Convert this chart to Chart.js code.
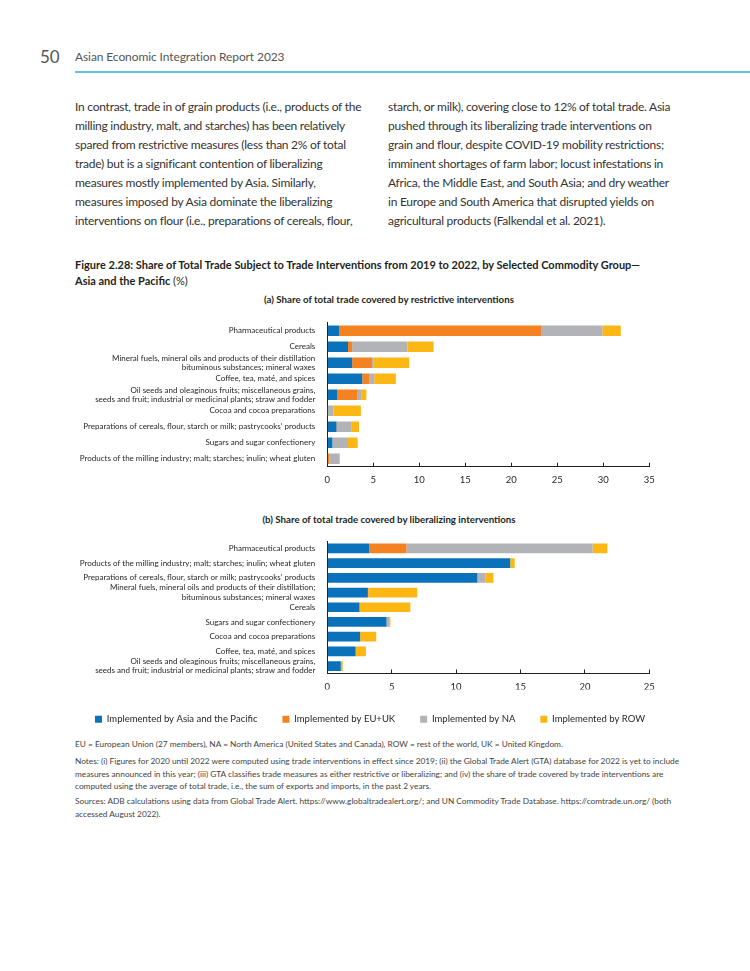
<!DOCTYPE html>
<html>
<head>
<meta charset="utf-8">
<script src="https://cdn.jsdelivr.net/npm/chart.js@4"></script>
<style>
  body { margin: 0; background: #fff; font-family: Lato, sans-serif; color: #333; }
  .page { position: relative; width: 750px; height: 971px; overflow: hidden; }
  .abs { position: absolute; white-space: nowrap; }
  .pnum { left: 40px; top: 46px; font-size: 17px; color: #555; }
  .runhead { left: 75px; top: 49px; font-size: 12px; letter-spacing: -0.1px; color: #555; }
  .rule { left: 75px; top: 71px; width: 675px; height: 2px; background: #5fc3e4; }
  .col { top: 97px; font-size: 12px; letter-spacing: -0.25px; line-height: 19px; color: #333; }
  .figtitle { left: 75px; top: 257px; font-size: 11px; line-height: 16px; font-weight: bold; color: #231f20; }
  .figtitle span { font-weight: normal; }
  .sub { left: 60px; width: 658px; text-align: center; font-size: 9.7px; font-weight: bold; color: #231f20; }
  .notes { left: 75px; font-size: 8.3px; line-height: 12.5px; color: #444; }
  .box { position: absolute; left: 60px; width: 640px; }
</style>
</head>
<body>
<div class="page">
  <div class="abs pnum">50</div>
  <div class="abs runhead">Asian Economic Integration Report 2023</div>
  <div class="abs rule"></div>

  <div class="abs col" style="left:75px">
    In contrast, trade in of grain products (i.e., products of the<br>
    milling industry, malt, and starches) has been relatively<br>
    spared from restrictive measures (less than 2% of total<br>
    trade) but is a significant contention of liberalizing<br>
    measures mostly implemented by Asia. Similarly,<br>
    measures imposed by Asia dominate the liberalizing<br>
    interventions on flour (i.e., preparations of cereals, flour,
  </div>
  <div class="abs col" style="left:388px">
    starch, or milk), covering close to 12% of total trade. Asia<br>
    pushed through its liberalizing trade interventions on<br>
    grain and flour, despite COVID-19 mobility restrictions;<br>
    imminent shortages of farm labor; locust infestations in<br>
    Africa, the Middle East, and South Asia; and dry weather<br>
    in Europe and South America that disrupted yields on<br>
    agricultural products (Falkendal et al. 2021).
  </div>

  <div class="abs figtitle">
    Figure 2.28: Share of Total Trade Subject to Trade Interventions from 2019 to 2022, by Selected Commodity Group—<br>
    Asia and the Pacific <span>(%)</span>
  </div>

  <div class="abs sub" style="top:293px">(a) Share of total trade covered by restrictive interventions</div>
  <div class="box" style="top:315px;height:175px"><canvas id="chartA"></canvas></div>

  <div class="abs sub" style="top:513px">(b) Share of total trade covered by liberalizing interventions</div>
  <div class="box" style="top:535px;height:199px"><canvas id="chartB"></canvas></div>

  <div class="abs notes" style="top:738px">EU = European Union (27 members), NA = North America (United States and Canada), ROW = rest of the world, UK = United Kingdom.</div>
  <div class="abs notes" style="top:755px">
    Notes: (i) Figures for 2020 until 2022 were computed using trade interventions in effect since 2019; (ii) the Global Trade Alert (GTA) database for 2022 is yet to include<br>
    measures announced in this year; (iii) GTA classifies trade measures as either restrictive or liberalizing; and (iv) the share of trade covered by trade interventions are<br>
    computed using the average of total trade, i.e., the sum of exports and imports, in the past 2 years.
  </div>
  <div class="abs notes" style="top:795px">
    Sources: ADB calculations using data from Global Trade Alert. https://www.globaltradealert.org/; and UN Commodity Trade Database. https://comtrade.un.org/ (both<br>
    accessed August 2022).
  </div>
</div>

<script>
const seriesNames = [
  'Implemented by Asia and the Pacific',
  'Implemented by EU+UK',
  'Implemented by NA',
  'Implemented by ROW'
];
const colors = ['#0a72ba', '#f58220', '#b1b3b6', '#fdb714'];

// (a) restrictive interventions
const catsA = [
  'Pharmaceutical products',
  'Cereals',
  ['Mineral fuels, mineral oils and products of their distillation', 'bituminous substances; mineral waxes'],
  'Coffee, tea, maté, and spices',
  ['Oil seeds and oleaginous fruits; miscellaneous grains,', 'seeds and fruit; industrial or medicinal plants; straw and fodder'],
  'Cocoa and cocoa preparations',
  'Preparations of cereals, flour, starch or milk; pastrycooks’ products',
  'Sugars and sugar confectionery',
  'Products of the milling industry; malt; starches; inulin; wheat gluten'
];
const asiaA = [1.3, 2.25, 2.7, 3.8, 1.1, 0, 1.0, 0.55, 0.05];
const euA   = [22.0, 0.45, 2.15, 0.8, 2.2, 0, 0.05, 0, 0.15];
const naA   = [6.6, 6.0, 0.2, 0.5, 0.45, 0.65, 1.55, 1.7, 1.1];
const rowA  = [2.0, 2.85, 3.85, 2.35, 0.5, 3.0, 0.85, 1.05, 0.08];
const ticksA = [0, 5, 10, 15, 20, 25, 30, 35];

// (b) liberalizing interventions
const catsB = [
  'Pharmaceutical products',
  'Products of the milling industry; malt; starches; inulin; wheat gluten',
  'Preparations of cereals, flour, starch or milk; pastrycooks’ products',
  ['Mineral fuels, mineral oils and products of their distillation;', 'bituminous substances; mineral waxes'],
  'Cereals',
  'Sugars and sugar confectionery',
  'Cocoa and cocoa preparations',
  'Coffee, tea, maté, and spices',
  ['Oil seeds and oleaginous fruits; miscellaneous grains,', 'seeds and fruit; industrial or medicinal plants; straw and fodder']
];
const asiaB = [3.25, 14.2, 11.65, 3.15, 2.5, 4.6, 2.55, 2.2, 1.05];
const euB   = [2.9, 0, 0, 0.03, 0, 0, 0, 0, 0];
const naB   = [14.45, 0, 0.65, 0, 0, 0.2, 0, 0, 0];
const rowB  = [1.15, 0.35, 0.6, 3.8, 3.95, 0.1, 1.25, 0.8, 0.15];
const ticksB = [0, 5, 10, 15, 20, 25];

Chart.defaults.font.family = 'Lato, sans-serif';
Chart.defaults.color = '#231f20';
Chart.defaults.animation = false;

function makeSets(vals) {
  return vals.map((v, i) => ({
    label: seriesNames[i],
    data: v,
    backgroundColor: colors[i],
    borderWidth: 0,
    barPercentage: 0.66,
    categoryPercentage: 1
  }));
}

// plotRight: space kept free right of the x axis, whatever the outer padding is
function makeOptions(ticks, yWidth, xHeight, pad, plotRight, legend) {
  return {
    indexAxis: 'y',
    responsive: true,
    maintainAspectRatio: false,
    layout: { padding: pad },
    plugins: {
      legend: legend,
      tooltip: { enabled: false }
    },
    scales: {
      x: {
        stacked: true,
        min: ticks[0],
        max: ticks[ticks.length - 1],
        afterBuildTicks: s => { s.ticks = ticks.map(v => ({ value: v })); },
        afterFit: s => { s.height = xHeight; s.paddingRight = plotRight; },
        grid: { drawOnChartArea: false, color: '#231f20', tickLength: -4, lineWidth: 1 },
        border: { display: true, color: '#231f20', width: 1 },
        ticks: { padding: 12, font: { size: 9.5 }, maxRotation: 0 }
      },
      y: {
        stacked: true,
        afterFit: s => { s.width = yWidth; s.paddingTop = 0; s.paddingBottom = 0; },
        grid: { display: false, drawTicks: false, tickLength: 0 },
        border: { display: true, color: '#231f20', width: 1 },
        ticks: { padding: 12, font: { size: 8, lineHeight: 1.17 }, autoSkip: false }
      }
    }
  };
}

new Chart(document.getElementById('chartA'), {
  type: 'bar',
  data: { labels: catsA, datasets: makeSets([asiaA, euA, naA, rowA]) },
  options: makeOptions(ticksA, 267.3, 23.3, { top: 7.7, right: 0, left: 0, bottom: 0 }, 50.7, { display: false })
});

new Chart(document.getElementById('chartB'), {
  type: 'bar',
  data: { labels: catsB, datasets: makeSets([asiaB, euB, naB, rowB]) },
  options: makeOptions(ticksB, 262.3, 16, { top: 6, right: 25, left: 5, bottom: 0 }, 50.7, {
    display: true,
    position: 'bottom',
    labels: { boxWidth: 7, boxHeight: 7, padding: 25, font: { size: 9.5 }, color: '#231f20' }
  })
});
</script>
</body>
</html>
